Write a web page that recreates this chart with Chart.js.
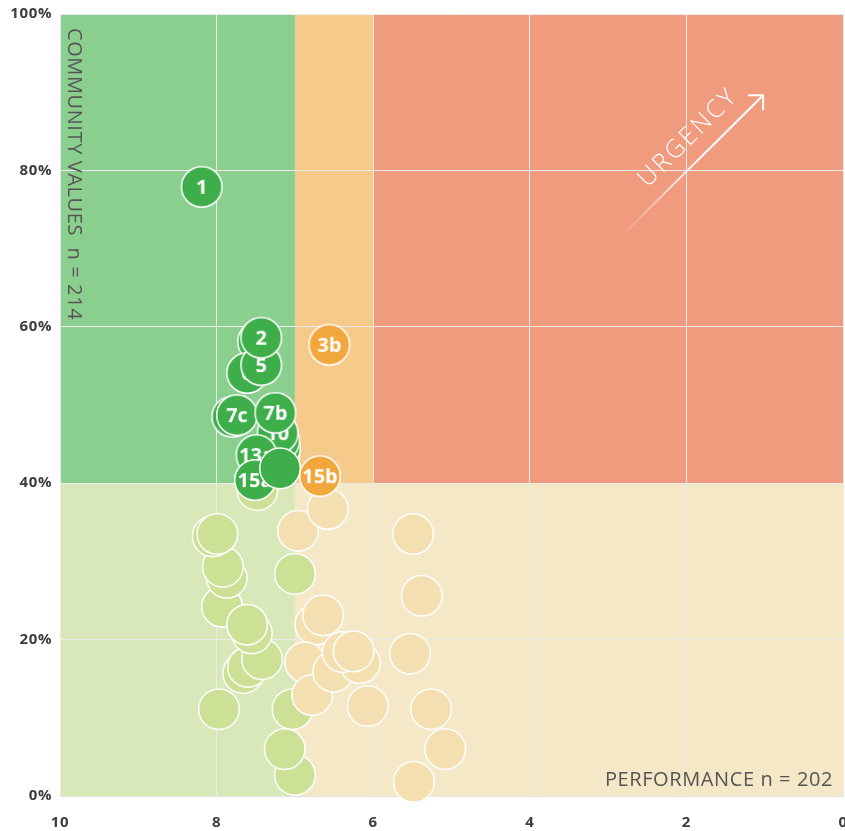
<!DOCTYPE html>
<html lang="en">
<head>
<meta charset="UTF-8">
<title>Community values vs performance</title>
<script src="https://cdn.jsdelivr.net/npm/chart.js"></script>
<style>
    body {
        margin: 0;
        padding: 0;
        background: #fff;
        font-family: "Open Sans", sans-serif;
    }

    #chart-container {
        position: relative;
        width: 845px;
        height: 831px;
    }
</style>
</head>
<body>
<div id="chart-container"><canvas id="chart"></canvas></div>
<script>
    // unlabelled issues (performance score, % community values)
    const otherPerf = [7.93, 7.87, 7.92, 8.05, 7.99, 7.66, 7.60, 7.42, 7.55, 7.61, 7.97,
        7.0, 7.0, 7.13, 7.48, 7.03,
        6.96, 6.58, 5.49, 5.38, 6.74, 6.64, 5.53, 6.87, 6.78, 6.51, 6.17, 6.39, 6.25, 6.07, 5.26, 5.08, 5.48];
    const otherValues = [24.2, 27.9, 29.3, 33.2, 33.5, 15.7, 16.5, 17.5, 20.8, 21.9, 11.1,
        28.4, 2.7, 6.0, 39.1, 11.1,
        33.9, 36.7, 33.5, 25.6, 21.9, 23.1, 18.2, 17.1, 12.9, 15.9, 17.0, 18.4, 18.5, 11.5, 11.1, 6.0, 1.8];

    // labelled issues, in drawing order (last one on top)
    const issueNames = ["1", "3a", "6", "5", "2", "7a", "7c", "9", "8", "4", "10", "7b", "13a", "15a", "", "3b", "15b"];
    const issuePerf = [8.19, 7.47, 7.61, 7.43, 7.43, 7.80, 7.74, 7.20, 7.19, 7.20, 7.22, 7.25, 7.49, 7.51, 7.19, 6.56, 6.68];
    const issueValues = [77.9, 58.1, 54.1, 55.1, 58.6, 48.5, 48.7, 43.5, 44.5, 45.4, 46.4, 49.0, 43.6, 40.4, 41.9, 57.7, 40.9];

    const perfTicks = [10, 8, 6, 4, 2, 0];
    const valueTicks = [0, 20, 40, 60, 80, 100];

    const perfGood = 7;
    const perfWarn = 6;
    const valuesCut = 40;
    const bubbleRadius = 20.3;

    function zoneColor(x, y) {
        if (y >= valuesCut) return x >= perfGood ? "#3dae4a" : "#f1a73b";
        return x >= perfGood ? "#cce096" : "#f3dfb0";
    }

    const points = [];
    otherPerf.forEach((p, i) => points.push({ x: p, y: otherValues[i], name: "" }));
    issuePerf.forEach((p, i) => points.push({ x: p, y: issueValues[i], name: issueNames[i] }));

    // labelled bubbles drawn as small canvases so the text hides behind later bubbles
    function makeBadge(color, text) {
        const c = document.createElement("canvas");
        c.width = 46;
        c.height = 46;
        const g = c.getContext("2d");
        g.beginPath();
        g.arc(23, 23, bubbleRadius, 0, Math.PI * 2);
        g.fillStyle = color;
        g.fill();
        g.lineWidth = 1.5;
        g.strokeStyle = "#fff";
        g.stroke();
        g.fillStyle = "#fff";
        g.font = "bold 20px 'Open Sans'";
        g.textAlign = "center";
        g.textBaseline = "middle";
        g.fillText(text, 23, 24);
        return c;
    }

    const zonePlugin = {
        id: "zones",
        beforeDraw(chart) {
            const { ctx, scales: { x, y } } = chart;
            const rect = (x0, x1, y0, y1, color) => {
                const l = x.getPixelForValue(x0), r = x.getPixelForValue(x1);
                const t = y.getPixelForValue(y1), b = y.getPixelForValue(y0);
                ctx.fillStyle = color;
                ctx.fillRect(l, t, r - l, b - t);
            };
            ctx.save();
            rect(10, perfGood, valuesCut, 100, "#8bcf8f");
            rect(perfGood, perfWarn, valuesCut, 100, "#f5ca8b");
            rect(perfWarn, 0, valuesCut, 100, "#f09a7e");
            rect(10, perfGood, 0, valuesCut, "#d9e8b8");
            rect(perfGood, 0, 0, valuesCut, "#f5e8c7");
            ctx.restore();
            // a bit wider tick labels
            ctx.letterSpacing = "0.6px";
        }
    };

    const labelPlugin = {
        id: "labels",
        beforeDatasetsDraw(chart) {
            const { ctx, chartArea: a } = chart;
            ctx.save();
            ctx.fillStyle = "#555";
            ctx.font = "20px 'Open Sans'";
            ctx.letterSpacing = "0.6px";

            // y axis title inside the plot
            ctx.save();
            ctx.translate(a.left + 14, a.top + 14);
            ctx.rotate(Math.PI / 2);
            ctx.textAlign = "left";
            ctx.textBaseline = "middle";
            ctx.fillText("COMMUNITY VALUES  n = 214", 0, 0);
            ctx.restore();

            // x axis title inside the plot
            ctx.textAlign = "right";
            ctx.textBaseline = "alphabetic";
            ctx.fillText("PERFORMANCE n = 202", a.right - 10, a.bottom - 10);

            // urgency arrow
            const w = a.right - a.left, h = a.bottom - a.top;
            const sx = a.left + w * 0.715, sy = a.top + h * 0.286;
            const ex = a.left + w * 0.898, ey = a.top + h * 0.104;
            const grad = ctx.createLinearGradient(sx, sy, ex, ey);
            grad.addColorStop(0, "rgba(255,255,255,0)");
            grad.addColorStop(0.55, "rgba(255,255,255,1)");
            grad.addColorStop(1, "rgba(255,255,255,1)");
            ctx.strokeStyle = grad;
            ctx.lineWidth = 2;
            ctx.beginPath();
            ctx.moveTo(sx, sy);
            ctx.lineTo(ex, ey);
            ctx.stroke();
            ctx.strokeStyle = "#fff";
            ctx.beginPath();
            ctx.moveTo(ex - 15, ey);
            ctx.lineTo(ex, ey);
            ctx.lineTo(ex, ey + 15);
            ctx.stroke();

            const len = Math.hypot(ex - sx, ey - sy);
            const ux = (ex - sx) / len, uy = (ey - sy) / len;
            const tx = sx + ux * 119 + uy * 22.6;
            const ty = sy + uy * 119 - ux * 22.6;
            ctx.translate(tx, ty);
            ctx.rotate(Math.atan2(ey - sy, ex - sx));
            ctx.fillStyle = "#fff";
            ctx.font = "300 25px 'Open Sans'";
            ctx.letterSpacing = "2.5px";
            ctx.textAlign = "center";
            ctx.textBaseline = "middle";
            ctx.fillText("URGENCY", 0, 0);
            ctx.restore();
        }
    };

    const ctx = document.getElementById("chart").getContext("2d");
    new Chart(ctx, {
        type: "bubble",
        data: {
            datasets: [{
                data: points,
                radius: bubbleRadius,
                borderColor: "#fff",
                borderWidth: 1.5,
                clip: false,
                backgroundColor: c => zoneColor(c.raw.x, c.raw.y),
                pointStyle: c => c.raw.name ? makeBadge(zoneColor(c.raw.x, c.raw.y), c.raw.name) : "circle"
            }]
        },
        options: {
            responsive: true,
            maintainAspectRatio: false,
            animation: false,
            events: [],
            layout: { autoPadding: false, padding: { top: 14, right: 2, left: 0, bottom: 0 } },
            plugins: {
                legend: { display: false },
                tooltip: { enabled: false }
            },
            scales: {
                x: {
                    type: "linear",
                    reverse: true,
                    min: 0,
                    max: 10,
                    afterBuildTicks: s => { s.ticks = perfTicks.map(v => ({ value: v })); },
                    afterFit: s => { s.height = 35; s.paddingLeft = 0; s.paddingRight = 0; },
                    grid: { color: "#ebebeb", drawTicks: false },
                    border: { color: "#e2e2e2" },
                    ticks: {
                        padding: 18,
                        color: "#3d3d3d",
                        font: { family: "'Open Sans'", size: 15, weight: "bold" }
                    }
                },
                y: {
                    type: "linear",
                    min: 0,
                    max: 100,
                    afterBuildTicks: s => { s.ticks = valueTicks.map(v => ({ value: v })); },
                    afterFit: s => { s.width = 60; s.paddingTop = 0; s.paddingBottom = 0; },
                    grid: { color: "#ebebeb", drawTicks: false },
                    border: { display: false },
                    ticks: {
                        padding: 8,
                        color: "#3d3d3d",
                        font: { family: "'Open Sans'", size: 15, weight: "bold" },
                        callback: v => v + "%"
                    }
                }
            }
        },
        plugins: [zonePlugin, labelPlugin]
    });
</script>
</body>
</html>
